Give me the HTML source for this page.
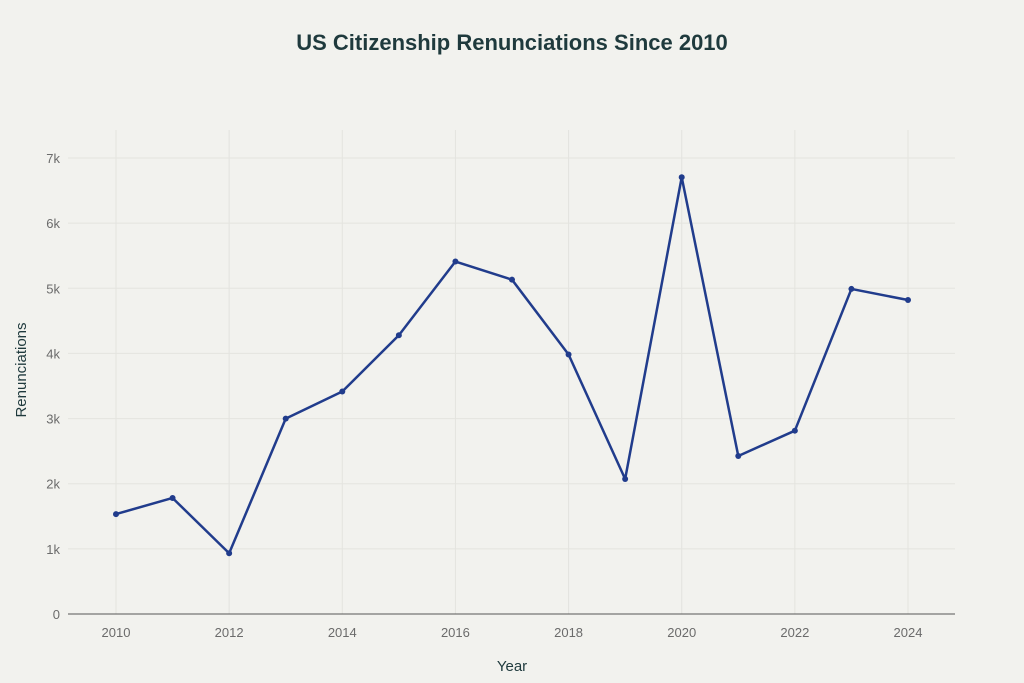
<!DOCTYPE html>
<html><head><meta charset="utf-8">
<style>
body{margin:0;background:#f2f2ee;font-family:"Liberation Sans",sans-serif;}
svg{display:block}
</style></head>
<body>
<svg id="chart" width="1024" height="683" xmlns="http://www.w3.org/2000/svg">
<rect width="1024" height="683" fill="#f2f2ee"/>
<text x="512" y="50" text-anchor="middle" font-size="22" font-weight="bold" fill="#1f3a3d">US Citizenship Renunciations Since 2010</text>
<g id="grid"></g><g id="axes"></g><g id="series"></g>
<text x="512" y="671" text-anchor="middle" font-size="15" fill="#1f3a3d">Year</text>
<text x="26" y="370" text-anchor="middle" font-size="15" fill="#1f3a3d" transform="rotate(-90 26 370)">Renunciations</text>
</svg>
<script>
const years=[2010,2011,2012,2013,2014,2015,2016,2017,2018,2019,2020,2021,2022,2023,2024];
const values=[1534,1781,932,2999,3415,4279,5411,5132,3983,2072,6705,2426,2814,4990,4820];
const yTicks=[0,1000,2000,3000,4000,5000,6000,7000];
const yTickLabels=["0","1k","2k","3k","4k","5k","6k","7k"];
const xTicks=[2010,2012,2014,2016,2018,2020,2022,2024];
const NS="http://www.w3.org/2000/svg";
const x=v=>116+(v-2010)*(908-116)/14;
const y=v=>614-v*(614-158)/7000;
function mk(t,a,p){const e=document.createElementNS(NS,t);for(const k in a)e.setAttribute(k,a[k]);p.appendChild(e);return e;}
const grid=document.getElementById('grid'),axes=document.getElementById('axes'),ser=document.getElementById('series');
yTicks.forEach((t,i)=>{
 if(t>0){const l=mk('line',{x1:68,x2:955,y1:y(t),y2:y(t),stroke:'#e4e4df','stroke-width':1},grid);
 
 }
 const tx=mk('text',{x:60,y:y(t)+5,'text-anchor':'end','font-size':13,fill:'#6b6b6b'},axes);
 tx.textContent=yTickLabels[i];
 
 
});
xTicks.forEach(t=>{
 const l=mk('line',{x1:x(t),x2:x(t),y1:130,y2:614,stroke:'#e4e4df','stroke-width':1},grid);
 
 
 const tx=mk('text',{x:x(t),y:637,'text-anchor':'middle','font-size':13,fill:'#6b6b6b'},axes);
 tx.textContent=t;
 
 
});
const ax=mk('line',{x1:68,x2:955,y1:614,y2:614,stroke:'#555','stroke-width':1},axes);


const pl=mk('polyline',{points:years.map((yr,i)=>x(yr)+','+y(values[i])).join(' '),fill:'none',stroke:'#213c8c','stroke-width':2.5,'stroke-linejoin':'round'},ser);


years.forEach((yr,i)=>{
 const c=mk('circle',{cx:x(yr),cy:y(values[i]),r:3,fill:'#213c8c'},ser);
 
 
});
</script>
</body></html>
